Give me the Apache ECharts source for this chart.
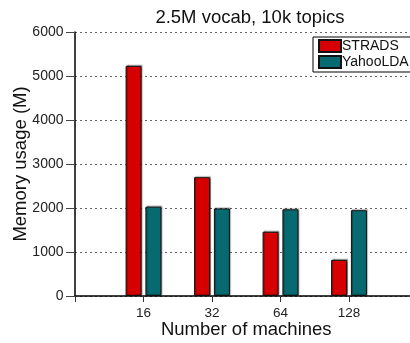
<!DOCTYPE html>
<html><head><meta charset="utf-8">
<script src="https://cdn.jsdelivr.net/npm/echarts@6/dist/echarts.min.js"></script>
<style>html,body{margin:0;padding:0;background:#fff;overflow:hidden}#c{width:410px;height:343px}</style>
</head><body><div id="c"></div>
<script>
var categories = ['', '16', '32', '64', '128', ''];
var strads = [null, 5230, 2700, 1460, 820, null];
var yahoo = [null, 2030, 1990, 1970, 1950, null];
var yTicks = [0, 1000, 2000, 3000, 4000, 5000, 6000];

var chart = echarts.init(document.getElementById('c'));
var font = 'Liberation Sans';
chart.setOption({
  animation: false,
  textStyle: {fontFamily: font},
  title: {text: '2.5M vocab, 10k topics', left: 245, top: 3, textAlign: 'center',
    textStyle: {fontFamily: font, fontSize: 18.5, fontWeight: 'normal', color: '#111'}},
  legend: {orient: 'vertical', left: 313, top: 37, padding: [2, 20, 3, 5], itemGap: 2,
    itemWidth: 22, itemHeight: 12, borderColor: '#000', borderWidth: 1, backgroundColor: '#fff',
    icon: 'rect', textStyle: {fontFamily: font, fontSize: 14, color: '#111', padding: [0, 0, 0, -4]},
    data: ['STRADS', 'YahooLDA']},
  grid: {left: 75, top: 32, height: 264, width: 342.5, outerBoundsMode: 'none', containLabel: false},
  xAxis: {type: 'category', data: categories, boundaryGap: false,
    name: 'Number of machines', nameLocation: 'middle', nameGap: 24, nameMoveOverlap: false,
    nameTextStyle: {fontFamily: font, fontSize: 18.5, color: '#111'},
    axisLine: {lineStyle: {color: '#000', width: 1.5}},
    axisTick: {show: true, length: 6, lineStyle: {color: '#333'}, alignWithLabel: true},
    axisLabel: {fontFamily: font, fontSize: 13.5, color: '#222', margin: 10},
    splitLine: {show: false}},
  yAxis: {type: 'value', min: 0, max: 6000, interval: 1000,
    name: 'Memory usage (M)', nameLocation: 'middle', nameGap: 45, nameMoveOverlap: false,
    nameTextStyle: {fontFamily: font, fontSize: 18.5, color: '#111'},
    axisLine: {show: true, lineStyle: {color: '#000', width: 1.5}},
    axisTick: {show: true, length: 9, lineStyle: {color: '#444'}},
    axisLabel: {fontFamily: font, fontSize: 14, color: '#222', margin: 11.5,
      formatter: function (v) { return yTicks.indexOf(v) >= 0 ? String(v) : ''; }},
    splitLine: {show: true, lineStyle: {color: '#666', type: [2, 3], width: 1}}},
  series: [
    {name: 'STRADS', type: 'bar', data: strads, barWidth: 16, barGap: '24%',
      itemStyle: {color: '#d70000', borderColor: '#111', borderWidth: 1,
        shadowColor: 'rgba(0,0,0,0.35)', shadowOffsetX: 1, shadowOffsetY: -1, shadowBlur: 1}},
    {name: 'YahooLDA', type: 'bar', data: yahoo, barWidth: 16,
      itemStyle: {color: '#066a70', borderColor: '#111', borderWidth: 1,
        shadowColor: 'rgba(0,0,0,0.35)', shadowOffsetX: 1, shadowOffsetY: -1, shadowBlur: 1}}
  ]
});
</script></body></html>
